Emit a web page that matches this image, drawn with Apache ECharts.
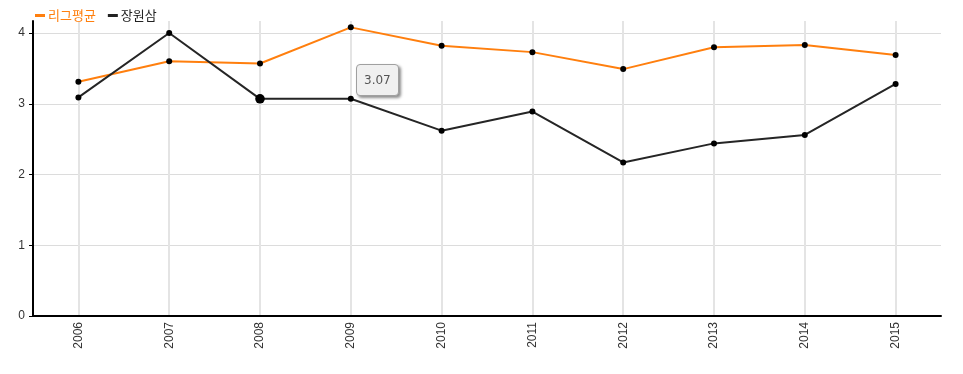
<!DOCTYPE html>
<html>
<head>
<meta charset="utf-8">
<script src="https://cdn.jsdelivr.net/npm/echarts@6/dist/echarts.min.js"></script>
<style>html,body{margin:0;padding:0;background:#fff}#c{width:963px;height:374px}</style>
</head>
<body>
<div id="c"></div>
<script>
var years = ['2006','2007','2008','2009','2010','2011','2012','2013','2014','2015'];
var leagueAvg = [3.31, 3.60, 3.57, 4.08, 3.82, 3.73, 3.49, 3.80, 3.83, 3.69];
var jangWonsam = [3.09, 4.00, 3.07, 3.07, 2.62, 2.89, 2.17, 2.44, 2.56, 3.28];
var yTicks = [0, 1, 2, 3, 4];
var seriesNames = ['리그평균', '장원삼'];
var seriesColors = ['#ff7f0e', '#222222'];

var chart = echarts.init(document.getElementById('c'));
chart.setOption({
  animation: false,
  backgroundColor: '#fff',
  grid: { left: 33, right: 22, top: 21, bottom: 58, containLabel: false },
  legend: {
    left: 30, top: 4, itemGap: 12, itemWidth: 10, itemHeight: 3, icon: 'rect',
    textStyle: { fontFamily: 'Noto Sans CJK KR', fontSize: 13, padding: [0,0,0,-2] },
    data: [
      { name: seriesNames[0], itemStyle: { color: seriesColors[0] }, textStyle: { color: seriesColors[0] } },
      { name: seriesNames[1], itemStyle: { color: seriesColors[1] }, textStyle: { color: '#222' } }
    ]
  },
  tooltip: {
    trigger: 'item',
    alwaysShowContent: true,
    position: [356, 64],
    backgroundColor: '#f0f0f0',
    borderColor: '#a0a0a0',
    borderWidth: 1,
    borderRadius: 4,
    padding: [6, 7],
    extraCssText: 'box-shadow: 2px 2px 3px rgba(0,0,0,0.45);',
    textStyle: { color: '#555', fontSize: 12, fontFamily: 'DejaVu Sans' },
    formatter: function (p) { return p.value.toFixed(2); }
  },
  xAxis: {
    type: 'category',
    data: years,
    boundaryGap: true,
    axisLine: { lineStyle: { color: '#000', width: 2 } },
    axisTick: { alignWithLabel: true, length: 4, lineStyle: { color: '#000' } },
    axisLabel: { rotate: 90, fontSize: 12, color: '#333', fontFamily: 'Liberation Sans', margin: 6 },
    splitLine: { show: true, alignWithLabel: true, lineStyle: { color: '#e4e4e4', width: 2 } }
  },
  yAxis: {
    type: 'value',
    min: 0, max: 4.17,
    axisLine: { show: true, lineStyle: { color: '#000', width: 2 } },
    axisTick: { show: true, length: 4, lineStyle: { color: '#000' }, customValues: yTicks },
    axisLabel: { fontSize: 12, color: '#333', fontFamily: 'Liberation Sans', margin: 8, customValues: yTicks,
      formatter: function (v) { return yTicks.indexOf(v) >= 0 ? String(v) : ''; } },
    splitLine: { show: true, lineStyle: { color: ['#dcdcdc','#dcdcdc','#dcdcdc','#dcdcdc','#dcdcdc','rgba(0,0,0,0)'], width: 1 } }
  },
  series: [
    {
      name: seriesNames[0], type: 'line', data: leagueAvg,
      color: seriesColors[0],
      lineStyle: { color: seriesColors[0], width: 2 },
      symbol: 'circle', symbolSize: 6,
      itemStyle: { color: '#000' },
      emphasis: { scale: 1.5, lineStyle: { width: 2 } }
    },
    {
      name: seriesNames[1], type: 'line', data: jangWonsam,
      color: seriesColors[1],
      lineStyle: { color: seriesColors[1], width: 2 },
      symbol: 'circle', symbolSize: 6,
      itemStyle: { color: '#000' },
      emphasis: { scale: 1.6, lineStyle: { width: 2 } }
    }
  ]
});
chart.dispatchAction({ type: 'highlight', seriesIndex: 1, dataIndex: 2 });
chart.dispatchAction({ type: 'showTip', seriesIndex: 1, dataIndex: 2 });
</script>
</body>
</html>
